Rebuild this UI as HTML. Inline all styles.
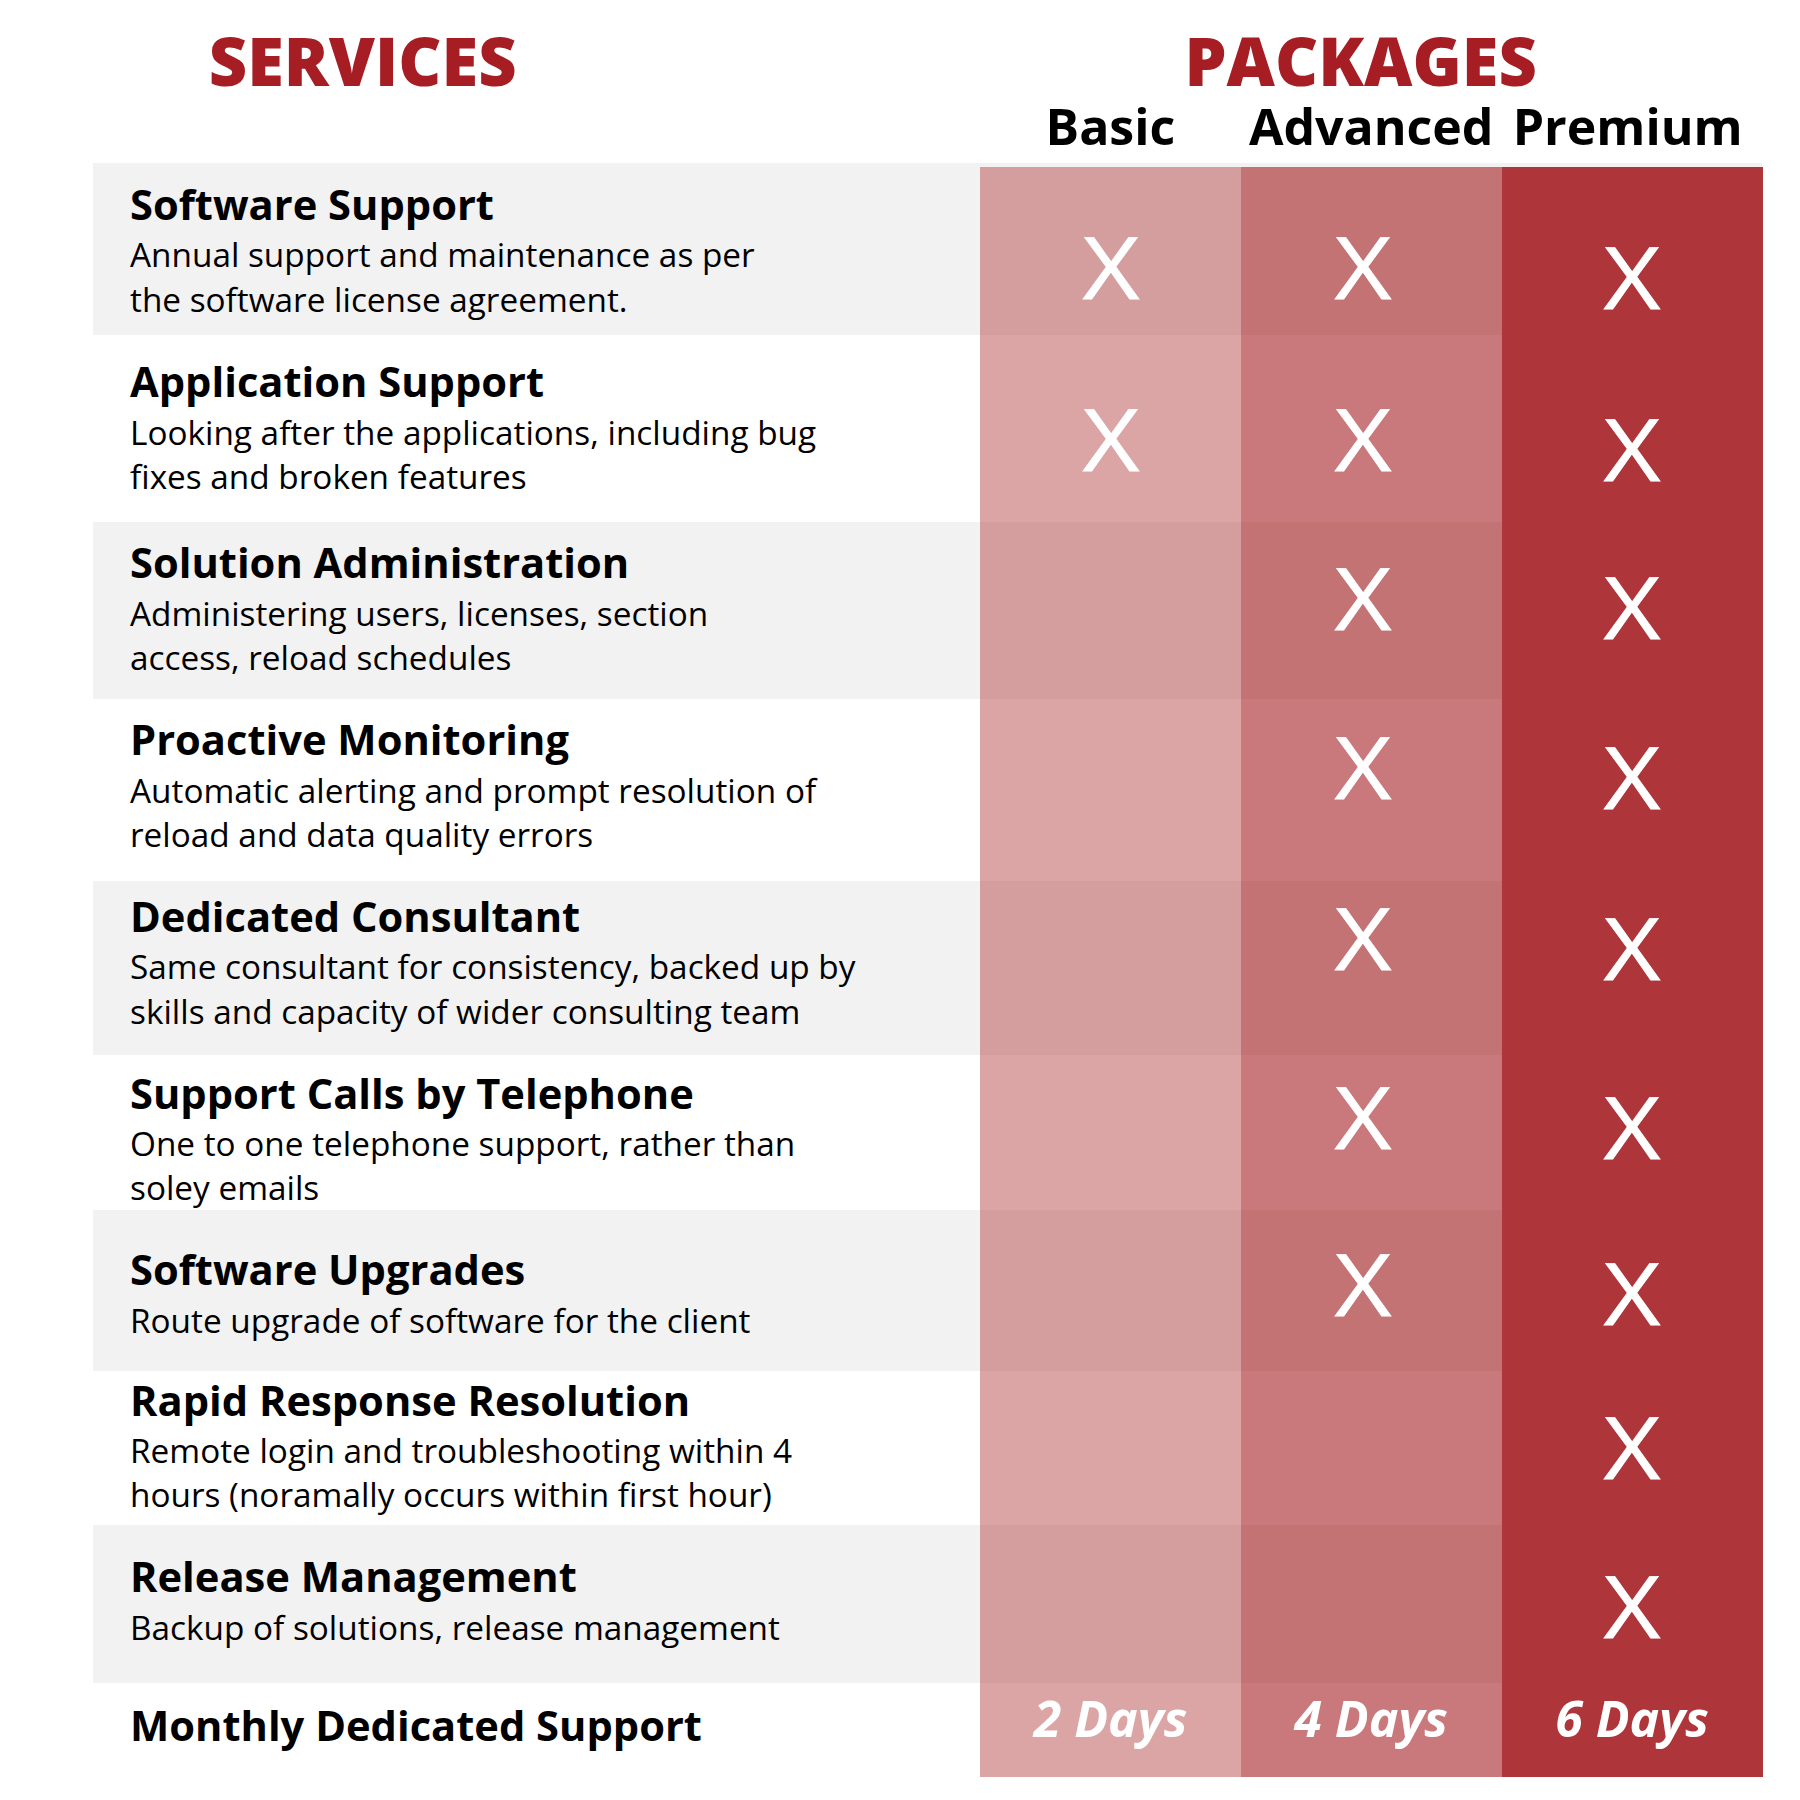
<!DOCTYPE html>
<html><head><meta charset="utf-8"><title>Services and Packages</title>
<style>
html,body{margin:0;padding:0;background:#fff;}
body{width:1800px;height:1800px;position:relative;overflow:hidden;font-family:"Open Sans","Liberation Sans",sans-serif;color:#000;}
.a{position:absolute;white-space:nowrap;line-height:1;}
.h{font-weight:800;font-size:66.67px;color:#a61e24;}
.p{font-weight:700;font-size:50px;}
.t{font-weight:700;font-size:41.67px;left:130px;}
.b{font-weight:400;font-size:33.33px;left:130px;}
.g{position:absolute;left:93px;width:1669px;background:#f2f2f2;}
.c{position:absolute;}
.x{position:absolute;width:200px;text-align:center;font-weight:400;font-size:86.7px;line-height:1;color:#fff;-webkit-text-stroke:0.8px #fff;transform:scaleX(1.13);}
.d{position:absolute;width:260px;text-align:center;font-weight:700;font-style:italic;font-size:50px;line-height:1;color:#fff;white-space:nowrap;}
</style></head><body>

<div class="g" style="top:163.3px;height:172.0px"></div>
<div class="g" style="top:522px;height:177px"></div>
<div class="g" style="top:880.7px;height:174.3px"></div>
<div class="g" style="top:1210px;height:160.7px"></div>
<div class="g" style="top:1524.6px;height:158.6px"></div>
<div class="c" style="left:980.4px;top:166.9px;width:260.6px;height:168.4px;background:#d49e9f"></div>
<div class="c" style="left:980.4px;top:335.3px;width:260.6px;height:186.7px;background:#dba5a6"></div>
<div class="c" style="left:980.4px;top:522px;width:260.6px;height:177px;background:#d49e9f"></div>
<div class="c" style="left:980.4px;top:699px;width:260.6px;height:181.7px;background:#dba5a6"></div>
<div class="c" style="left:980.4px;top:880.7px;width:260.6px;height:174.3px;background:#d49e9f"></div>
<div class="c" style="left:980.4px;top:1055px;width:260.6px;height:155px;background:#dba5a6"></div>
<div class="c" style="left:980.4px;top:1210px;width:260.6px;height:160.7px;background:#d49e9f"></div>
<div class="c" style="left:980.4px;top:1370.7px;width:260.6px;height:153.9px;background:#dba5a6"></div>
<div class="c" style="left:980.4px;top:1524.6px;width:260.6px;height:158.6px;background:#d49e9f"></div>
<div class="c" style="left:980.4px;top:1683.2px;width:260.6px;height:93.5px;background:#dba5a6"></div>
<div class="c" style="left:1241px;top:166.9px;width:261px;height:168.4px;background:#c47375"></div>
<div class="c" style="left:1241px;top:335.3px;width:261px;height:186.7px;background:#c9787b"></div>
<div class="c" style="left:1241px;top:522px;width:261px;height:177px;background:#c47375"></div>
<div class="c" style="left:1241px;top:699px;width:261px;height:181.7px;background:#c9787b"></div>
<div class="c" style="left:1241px;top:880.7px;width:261px;height:174.3px;background:#c47375"></div>
<div class="c" style="left:1241px;top:1055px;width:261px;height:155px;background:#c9787b"></div>
<div class="c" style="left:1241px;top:1210px;width:261px;height:160.7px;background:#c47375"></div>
<div class="c" style="left:1241px;top:1370.7px;width:261px;height:153.9px;background:#c9787b"></div>
<div class="c" style="left:1241px;top:1524.6px;width:261px;height:158.6px;background:#c47375"></div>
<div class="c" style="left:1241px;top:1683.2px;width:261px;height:93.5px;background:#c9787b"></div>
<div class="c" style="left:1502px;top:166.9px;width:260.8px;height:168.4px;background:#ae353a"></div>
<div class="c" style="left:1502px;top:335.3px;width:260.8px;height:186.7px;background:#ae353a"></div>
<div class="c" style="left:1502px;top:522px;width:260.8px;height:177px;background:#ae353a"></div>
<div class="c" style="left:1502px;top:699px;width:260.8px;height:181.7px;background:#ae353a"></div>
<div class="c" style="left:1502px;top:880.7px;width:260.8px;height:174.3px;background:#ae353a"></div>
<div class="c" style="left:1502px;top:1055px;width:260.8px;height:155px;background:#ae353a"></div>
<div class="c" style="left:1502px;top:1210px;width:260.8px;height:160.7px;background:#ae353a"></div>
<div class="c" style="left:1502px;top:1370.7px;width:260.8px;height:153.9px;background:#ae353a"></div>
<div class="c" style="left:1502px;top:1524.6px;width:260.8px;height:158.6px;background:#ae353a"></div>
<div class="c" style="left:1502px;top:1683.2px;width:260.8px;height:93.5px;background:#ae353a"></div>
<div class="a h" style="left:208.7px;top:27.81px">SERVICES</div>
<div class="a h" style="left:1184.5px;top:27.81px">PACKAGES</div>
<div class="a p" style="left:960.4px;width:300px;text-align:center;top:101.41px">Basic</div>
<div class="a p" style="left:1221.2px;width:300px;text-align:center;top:101.41px">Advanced</div>
<div class="a p" style="left:1477.7px;width:300px;text-align:center;top:101.41px">Premium</div>
<div class="a t" style="top:183.01px">Software Support</div>
<div class="a b" style="top:238.11px">Annual support and maintenance as per</div>
<div class="a b" style="top:283.11px">the software license agreement.</div>
<div class="a t" style="top:359.61px">Application Support</div>
<div class="a b" style="top:415.51px">Looking after the applications, including bug</div>
<div class="a b" style="top:460.01px">fixes and broken features</div>
<div class="a t" style="top:541.41px">Solution Administration</div>
<div class="a b" style="top:597.31px">Administering users, licenses, section</div>
<div class="a b" style="top:641.11px">access, reload schedules</div>
<div class="a t" style="top:717.81px">Proactive Monitoring</div>
<div class="a b" style="top:774.01px">Automatic alerting and prompt resolution of</div>
<div class="a b" style="top:817.81px">reload and data quality errors</div>
<div class="a t" style="top:895.21px">Dedicated Consultant</div>
<div class="a b" style="top:950.01px">Same consultant for consistency, backed up by</div>
<div class="a b" style="top:995.31px">skills and capacity of wider consulting team</div>
<div class="a t" style="top:1072.41px">Support Calls by Telephone</div>
<div class="a b" style="top:1127.31px">One to one telephone support, rather than</div>
<div class="a b" style="top:1170.91px">soley emails</div>
<div class="a t" style="top:1247.91px">Software Upgrades</div>
<div class="a b" style="top:1304.41px">Route upgrade of software for the client</div>
<div class="a t" style="top:1378.71px">Rapid Response Resolution</div>
<div class="a b" style="top:1434.01px">Remote login and troubleshooting within 4</div>
<div class="a b" style="top:1477.81px">hours (noramally occurs within first hour)</div>
<div class="a t" style="top:1555.41px">Release Management</div>
<div class="a b" style="top:1610.71px">Backup of solutions, release management</div>
<div class="a t" style="top:1703.51px">Monthly Dedicated Support</div>
<div class="x" style="left:1010.8px;top:222px">X</div>
<div class="x" style="left:1010.8px;top:394px">X</div>
<div class="x" style="left:1263.3px;top:222px">X</div>
<div class="x" style="left:1263.3px;top:394px">X</div>
<div class="x" style="left:1263.3px;top:553.25px">X</div>
<div class="x" style="left:1263.3px;top:722px">X</div>
<div class="x" style="left:1263.3px;top:893.1px">X</div>
<div class="x" style="left:1263.3px;top:1071.6px">X</div>
<div class="x" style="left:1263.3px;top:1239px">X</div>
<div class="x" style="left:1532.3px;top:232.1px">X</div>
<div class="x" style="left:1532.3px;top:404px">X</div>
<div class="x" style="left:1532.3px;top:561.5px">X</div>
<div class="x" style="left:1532.3px;top:731.9px">X</div>
<div class="x" style="left:1532.3px;top:902.9px">X</div>
<div class="x" style="left:1532.3px;top:1082px">X</div>
<div class="x" style="left:1532.3px;top:1247.9px">X</div>
<div class="x" style="left:1532.3px;top:1402.4px">X</div>
<div class="x" style="left:1532.3px;top:1561.4px">X</div>
<div class="d" style="left:980.6px;top:1693.11px">2 Days</div>
<div class="d" style="left:1241.2px;top:1693.11px">4 Days</div>
<div class="d" style="left:1502px;top:1693.11px">6 Days</div>
</body></html>
